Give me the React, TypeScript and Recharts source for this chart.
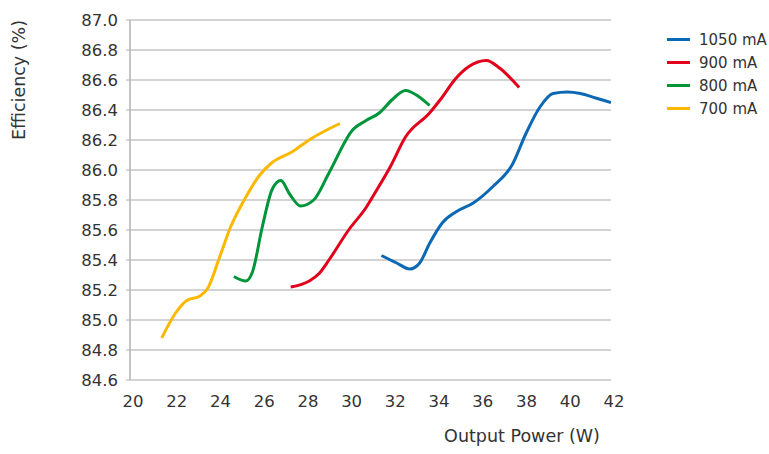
import React from 'react'
import { LineChart, Line, XAxis, YAxis, CartesianGrid } from 'recharts'

interface Point {
  p: number
  eff: number
}

const xTicks = [20, 22, 24, 26, 28, 30, 32, 34, 36, 38, 40, 42]
const yTicks = [84.6, 84.8, 85.0, 85.2, 85.4, 85.6, 85.8, 86.0, 86.2, 86.4, 86.6, 86.8, 87.0]

const s1050: Point[] = [
  { p: 31.5, eff: 85.43 },
  { p: 32.2, eff: 85.38 },
  { p: 32.8, eff: 85.34 },
  { p: 33.25, eff: 85.38 },
  { p: 33.7, eff: 85.51 },
  { p: 34.3, eff: 85.65 },
  { p: 34.9, eff: 85.72 },
  { p: 35.7, eff: 85.78 },
  { p: 36.6, eff: 85.89 },
  { p: 37.5, eff: 86.04 },
  { p: 38.1, eff: 86.24 },
  { p: 38.75, eff: 86.42 },
  { p: 39.35, eff: 86.51 },
  { p: 40.0, eff: 86.52 },
  { p: 40.6, eff: 86.51 },
  { p: 41.3, eff: 86.48 },
  { p: 42.0, eff: 86.45 },
]

const s900: Point[] = [
  { p: 27.35, eff: 85.22 },
  { p: 28.2, eff: 85.26 },
  { p: 28.65, eff: 85.31 },
  { p: 29.1, eff: 85.4 },
  { p: 30.0, eff: 85.6 },
  { p: 30.8, eff: 85.75 },
  { p: 31.3, eff: 85.87 },
  { p: 31.9, eff: 86.02 },
  { p: 32.6, eff: 86.22 },
  { p: 33.7, eff: 86.38 },
  { p: 34.2, eff: 86.47 },
  { p: 34.9, eff: 86.61 },
  { p: 35.5, eff: 86.69 },
  { p: 36.3, eff: 86.73 },
  { p: 36.9, eff: 86.68 },
  { p: 37.8, eff: 86.55 },
]

const s800: Point[] = [
  { p: 24.75, eff: 85.29 },
  { p: 25.3, eff: 85.26 },
  { p: 25.6, eff: 85.32 },
  { p: 26.05, eff: 85.62 },
  { p: 26.5, eff: 85.87 },
  { p: 26.9, eff: 85.93 },
  { p: 27.3, eff: 85.84 },
  { p: 27.8, eff: 85.76 },
  { p: 28.4, eff: 85.8 },
  { p: 29.1, eff: 85.98 },
  { p: 30.2, eff: 86.27 },
  { p: 30.8, eff: 86.33 },
  { p: 31.4, eff: 86.38 },
  { p: 32.0, eff: 86.47 },
  { p: 32.6, eff: 86.53 },
  { p: 33.2, eff: 86.49 },
  { p: 33.7, eff: 86.43 },
]

const s700: Point[] = [
  { p: 21.45, eff: 84.88 },
  { p: 22.1, eff: 85.05 },
  { p: 22.6, eff: 85.13 },
  { p: 23.2, eff: 85.16 },
  { p: 23.55, eff: 85.21 },
  { p: 24.1, eff: 85.42 },
  { p: 24.6, eff: 85.62 },
  { p: 25.3, eff: 85.82 },
  { p: 25.9, eff: 85.96 },
  { p: 26.5, eff: 86.05 },
  { p: 27.4, eff: 86.12 },
  { p: 28.3, eff: 86.21 },
  { p: 29.6, eff: 86.31 },
]

const series = [
  { name: '1050 mA', data: s1050, color: '#0b68b4' },
  { name: '900 mA', data: s900, color: '#e2001a' },
  { name: '800 mA', data: s800, color: '#00953b' },
  { name: '700 mA', data: s700, color: '#fbb800' },
]

const FONT = '"DejaVu Sans", sans-serif'
const TEXT = '#333333'

const XTitle = (props: any) => {
  const { viewBox } = props
  return (
    <text x={viewBox.x + viewBox.width * 0.815} y={viewBox.y + 62} textAnchor="middle" fontSize={17.5} fill={TEXT} fontFamily={FONT}>
      Output Power (W)
    </text>
  )
}

const YTitle = (props: any) => {
  const { viewBox } = props
  const cx = 19
  const cy = viewBox.y + 60
  return (
    <text x={cx} y={cy} transform={`rotate(-90 ${cx} ${cy})`} textAnchor="middle" dominantBaseline="central" fontSize={17.5} fill={TEXT} fontFamily={FONT}>
      Efficiency (%)
    </text>
  )
}

export default function App() {
  return (
    <div style={{ position: 'absolute', left: 0, top: 0, width: 769, height: 454, background: '#fff' }}>
      <LineChart width={769} height={454} margin={{ top: 20, right: 158, bottom: 44, left: 0 }}>
        <CartesianGrid vertical={false} stroke="#c4c4c4" strokeWidth={1.5} />
        <XAxis
          type="number"
          dataKey="p"
          domain={[20, 42]}
          ticks={xTicks}
          allowDataOverflow
          height={30}
          axisLine={false}
          tickLine={false}
          tickSize={0}
          tickMargin={15}
          tick={{ fill: TEXT, fontSize: 16.5, fontFamily: FONT, dx: 3 }}
          label={<XTitle />}
        />
        <YAxis
          type="number"
          domain={[84.6, 87.0]}
          ticks={yTicks}
          allowDataOverflow
          width={130}
          axisLine={{ stroke: '#b0b0b0', strokeWidth: 1.5 }}
          tickLine={{ stroke: '#b0b0b0' }}
          tickSize={4}
          tickMargin={8}
          tickFormatter={(v: number) => v.toFixed(1)}
          tick={{ fill: TEXT, fontSize: 16.5, fontFamily: FONT }}
          label={<YTitle />}
        />
        {series.map((s) => (
          <Line
            key={s.name}
            data={s.data}
            dataKey="eff"
            name={s.name}
            type="monotone"
            stroke={s.color}
            strokeWidth={3}
            dot={false}
            activeDot={false}
            isAnimationActive={false}
          />
        ))}
      </LineChart>
      <div style={{ position: 'absolute', left: 667, top: 28, fontFamily: FONT, fontSize: 15, color: TEXT }}>
        {series.map((s) => (
          <div key={s.name} style={{ display: 'flex', alignItems: 'center', height: 23 }}>
            <span style={{ display: 'inline-block', width: 23, height: 3, background: s.color, marginRight: 9 }} />
            <span>{s.name}</span>
          </div>
        ))}
      </div>
    </div>
  )
}
